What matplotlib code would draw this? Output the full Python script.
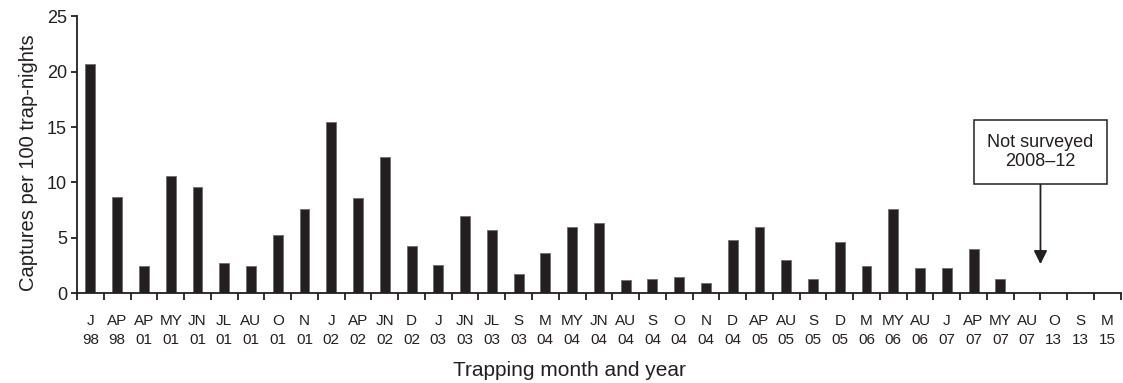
import matplotlib
matplotlib.use("Agg")
import matplotlib.pyplot as plt
import numpy as np

months = ["J", "AP", "AP", "MY", "JN", "JL", "AU", "O", "N", "J", "AP", "JN", "D",
          "J", "JN", "JL", "S", "M", "MY", "JN", "AU", "S", "O", "N", "D", "AP",
          "AU", "S", "D", "M", "MY", "AU", "J", "AP", "MY", "AU", "O", "S", "M"]
years = ["98", "98", "01", "01", "01", "01", "01", "01", "01", "02", "02", "02", "02",
         "03", "03", "03", "03", "04", "04", "04", "04", "04", "04", "04", "04", "05",
         "05", "05", "05", "06", "06", "06", "07", "07", "07", "07", "13", "13", "15"]
captures = [20.65, 8.66, 2.46, 10.58, 9.56, 2.7, 2.46, 5.23, 7.57, 15.48, 8.57, 12.26, 4.27,
            2.55, 6.97, 5.71, 1.71, 3.64, 5.95, 6.31, 1.2, 1.26, 1.47, 0.96, 4.81, 5.95,
            2.98, 1.29, 4.65, 2.46, 7.63, 2.31, 2.31, 3.99, 1.29, 0, 0, 0, 0]

plt.rcParams['font.family'] = ['Liberation Sans', 'DejaVu Sans']
ink = "#231f20"

fig = plt.figure(figsize=(11.23, 3.83), dpi=100)
ax = fig.add_axes([0.0686, 0.234, 0.9294, 0.724])

x = np.arange(len(captures))
ax.bar(x, captures, width=0.37, color=ink, edgecolor="#6e6e6e", linewidth=0.6, zorder=2)

ax.set_xlim(-0.5, len(captures) - 0.5)
ax.set_ylim(0, 25)
ax.set_yticks([0, 5, 10, 15, 20, 25])
ax.tick_params(axis='y', labelsize=13, length=4.3, width=1.3, color=ink, labelcolor=ink, pad=3)

ax.set_xticks(x)
ax.set_xticklabels([f"{m}\n{y}" for m, y in zip(months, years)], fontsize=11,
                   color=ink, linespacing=1.48)
ax.tick_params(axis='x', which='major', length=0, pad=14.5)
ax.set_xticks(np.arange(-0.5, len(captures), 1.0), minor=True)
ax.tick_params(axis='x', which='minor', length=4.8, width=1.3, color=ink)

for s in ["top", "right"]:
    ax.spines[s].set_visible(False)
for s in ["left", "bottom"]:
    ax.spines[s].set_linewidth(1.3)
    ax.spines[s].set_color(ink)

ax.set_ylabel("Captures per 100 trap-nights", fontsize=14.5, color=ink, labelpad=6)
ax.yaxis.label.set_y(0.47)
ax.set_xlabel("Trapping month and year", fontsize=15, color=ink, labelpad=10)
ax.xaxis.label.set_x(0.472)

ax.annotate("Not surveyed\n2008\u201312", xy=(35.5, 2.64), xytext=(35.5, 12.74),
            ha="center", va="center", fontsize=13, color=ink, linespacing=1.2,
            bbox=dict(boxstyle="square,pad=0.75", fc="white", ec=ink, lw=1.1),
            arrowprops=dict(arrowstyle="-|>", color=ink, lw=1.3, mutation_scale=20,
                            shrinkA=0, shrinkB=0))

fig.savefig("out.png", dpi=100)
